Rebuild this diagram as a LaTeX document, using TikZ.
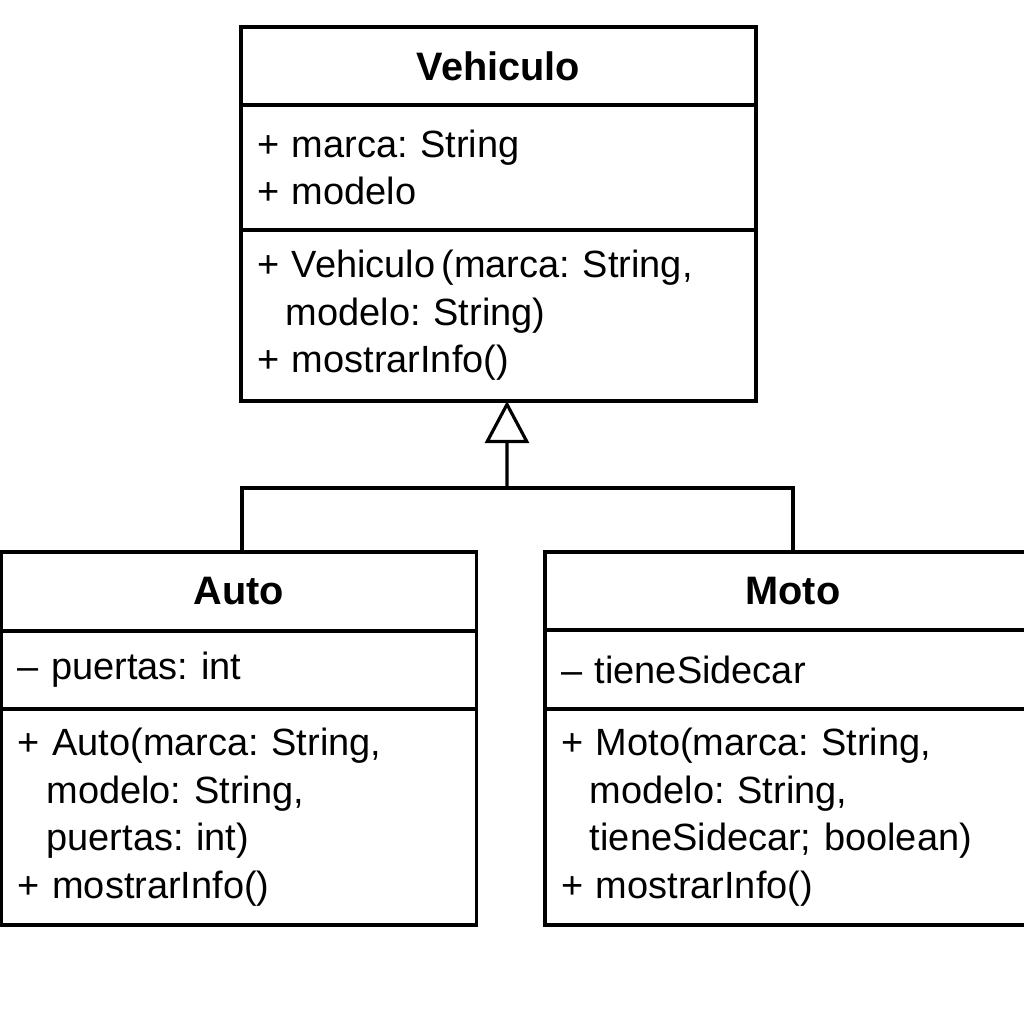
\documentclass[tikz,border=0pt]{standalone}
\usepackage{fontspec}
\setmainfont{Liberation Sans}
\usepackage{tikz}
\usetikzlibrary{arrows.meta, positioning}
\frenchspacing
\newcommand\umlbody{\fontsize{10.8}{13.5}\selectfont}
\newcommand\umlhead{\fontsize{11.3}{13.4}\selectfont\bfseries}
\tikzset{classname/.style={draw, line width=0.9pt, inner xsep=0.16cm, inner ysep=0pt,
  outer sep=0pt, text width=#1, align=center, font=\umlhead, anchor=north},
  members/.style={draw, line width=0.9pt, inner xsep=0.16cm, inner ysep=0pt,
  outer sep=0pt, text width=#1, align=left, font=\umlbody},
  link/.style={line width=0.9pt},
  inherit/.style={line width=0.9pt, -{Triangle[open, length=0.42cm, width=0.44cm]}}}

\begin{document}
\begin{tikzpicture}
\useasboundingbox (0,0) rectangle (10.24,-10.24);
% Vehiculo
\node[classname=4.83cm, minimum height=0.78cm] (veh) at (4.985,-0.27) {Vehiculo};
\node[members=4.83cm, minimum height=1.25cm, below=0pt of veh] (veh-attr)
  {+ marca: String\\+ modelo};
\node[members=4.83cm, minimum height=1.71cm, below=0pt of veh-attr] (veh-ops)
  {+ Vehiculo\,(marca: String,\\\hspace*{0.29cm}modelo: String)\\+ mostrarInfo()};

% Auto
\node[classname=4.43cm, minimum height=0.79cm] (auto) at (2.39,-5.52) {Auto};
\node[members=4.43cm, minimum height=0.78cm, below=0pt of auto] (auto-attr)
  {– puertas: int};
\node[members=4.43cm, minimum height=2.16cm, below=0pt of auto-attr] (auto-ops)
  {+ Auto(marca: String,\\\hspace*{0.29cm}modelo: String,\\\hspace*{0.29cm}puertas: int)\\+ mostrarInfo()};

% Moto
\node[classname=4.64cm, minimum height=0.78cm] (moto) at (7.93,-5.52) {Moto};
\node[members=4.64cm, minimum height=0.79cm, below=0pt of moto] (moto-attr)
  {– tieneSidecar};
\node[members=4.64cm, minimum height=2.16cm, below=0pt of moto-attr] (moto-ops)
  {+ Moto(marca: String,\\\hspace*{0.29cm}modelo: String,\\\hspace*{0.29cm}tieneSidecar; boolean)\\+ mostrarInfo()};

% Inheritance
\coordinate (join) at (5.07,-4.88);
\draw[link] ([xshift=0.03cm]auto.north) |- (join) -| (moto.north);
\draw[inherit] (join) -- ([xshift=0.085cm]veh-ops.south);
\end{tikzpicture}
\end{document}
